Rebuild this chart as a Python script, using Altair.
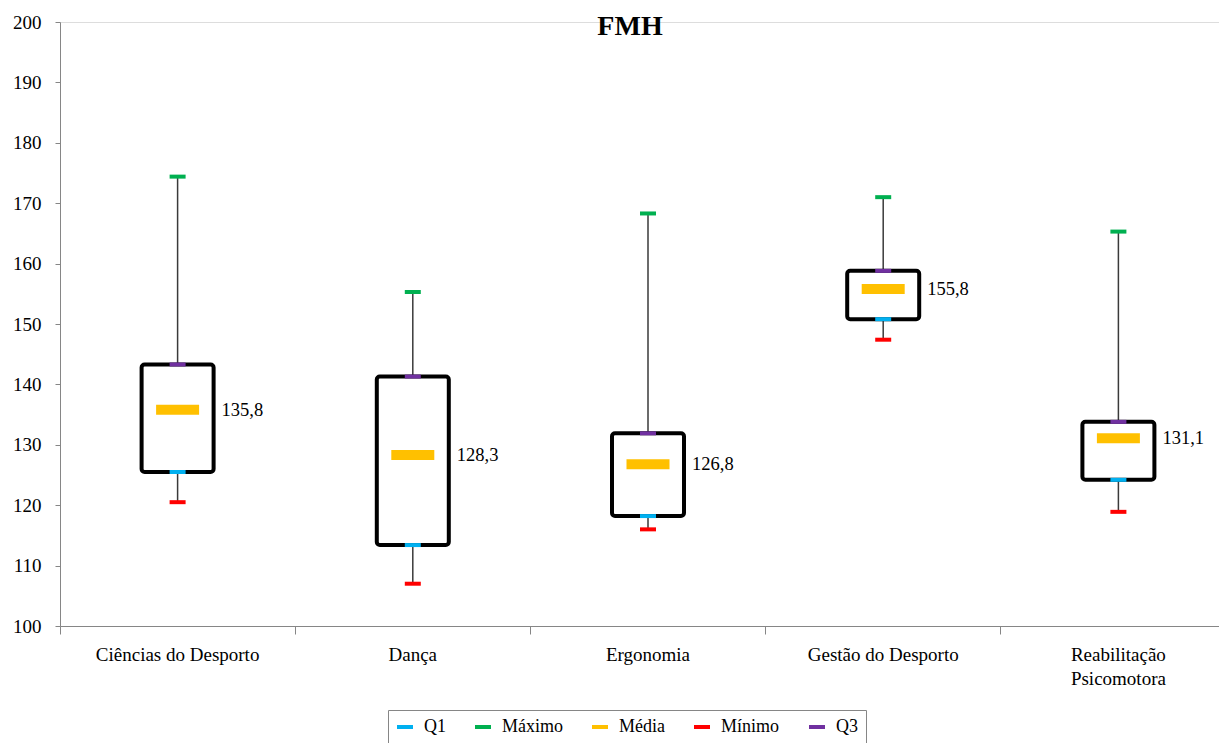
import altair as alt
import pandas as pd

categories = ["Ciências do Desporto", "Dança", "Ergonomia", "Gestão do Desporto", "Reabilitação Psicomotora"]
minimo = [120.5, 107.0, 116.0, 147.4, 118.9]
q1 = [125.5, 113.4, 118.2, 150.8, 124.2]
media = [135.8, 128.3, 126.8, 155.8, 131.1]
q3 = [143.3, 141.3, 131.9, 158.8, 133.8]
maximo = [174.4, 155.3, 168.3, 171.0, 165.3]

stat_names = ["Q1", "Máximo", "Média", "Mínimo", "Q3"]
stat_colors = ["#00B0F0", "#00B050", "#FFC000", "#FF0000", "#7030A0"]
y_ticks = [100, 110, 120, 130, 140, 150, 160, 170, 180, 190, 200]
title_text = "FMH"

FONT = "Liberation Serif"

box_df = pd.DataFrame({
    "cat": categories, "min": minimo, "q1": q1, "mean": media, "q3": q3, "max": maximo,
    "label": [f"{v:.1f}".replace(".", ",") for v in media],
})

rows = []
for i, c in enumerate(categories):
    rows.append({"cat": c, "stat": "Q1", "value": q1[i]})
    rows.append({"cat": c, "stat": "Máximo", "value": maximo[i]})
    rows.append({"cat": c, "stat": "Mínimo", "value": minimo[i]})
    rows.append({"cat": c, "stat": "Q3", "value": q3[i]})
small_df = pd.DataFrame(rows)
mean_df = pd.DataFrame({"cat": categories, "stat": ["Média"] * len(categories), "value": media})
title_df = pd.DataFrame({"t": [title_text]})

x_enc = alt.X(
    "cat:N",
    sort=categories,
    scale=alt.Scale(range=[0, 1176], paddingInner=0, paddingOuter=0),
    axis=alt.Axis(
        title=None, labelAngle=0, bandPosition=0, grid=False,
        domainColor="#868686", tickColor="#868686", tickSize=8,
        labelPadding=11, labelFont=FONT, labelFontSize=19, labelColor="black",
        labelLineHeight=24, labelBaseline="top",
        labelExpr="datum.label == 'Reabilitação Psicomotora' ? ['Reabilitação', 'Psicomotora'] : datum.label",
    ),
)

y_scale = alt.Scale(domain=[100, 200], nice=False, zero=False)
y_axis = alt.Axis(
    title=None, values=y_ticks, grid=False,
    domainColor="#868686", tickColor="#868686", tickSize=5,
    labelPadding=14, labelFont=FONT, labelFontSize=19, labelColor="black",
)

color_enc = alt.Color(
    "stat:N",
    scale=alt.Scale(domain=stat_names, range=stat_colors),
    legend=alt.Legend(
        title=None, orient="none", legendX=328, legendY=688, direction="horizontal",
        strokeColor="#868686", padding=8, columnPadding=28,
        labelFont=FONT, labelFontSize=18, labelColor="black", labelOffset=10,
        symbolType="M-1,-0.25L1,-0.25L1,0.25L-1,0.25Z", symbolSize=256,
        symbolStrokeWidth=0,
    ),
)

whisker = alt.Chart(box_df).mark_rule(color="#3a3a3a", strokeWidth=1.5).encode(
    x=x_enc,
    y=alt.Y("min:Q", scale=y_scale, axis=y_axis),
    y2="max:Q",
)

box = alt.Chart(box_df).mark_bar(
    size=72, fill="white", stroke="black", strokeWidth=4, cornerRadius=3
).encode(
    x=x_enc,
    y=alt.Y("q1:Q", scale=y_scale, axis=y_axis),
    y2="q3:Q",
)

small = alt.Chart(small_df).mark_tick(size=16, thickness=4, opacity=1).encode(
    x=x_enc,
    y=alt.Y("value:Q", scale=y_scale, axis=y_axis),
    color=color_enc,
)

mean_marks = alt.Chart(mean_df).mark_tick(size=43, thickness=10, opacity=1).encode(
    x=x_enc,
    y=alt.Y("value:Q", scale=y_scale, axis=y_axis),
    color=color_enc,
)

labels = alt.Chart(box_df).mark_text(
    align="left", baseline="middle", dx=44, font=FONT, fontSize=18.5, color="black"
).encode(
    x=x_enc,
    y=alt.Y("mean:Q", scale=y_scale, axis=y_axis),
    text="label:N",
)

title = alt.Chart(title_df).mark_text(
    align="center", baseline="alphabetic", font=FONT, fontSize=28, fontWeight="bold", color="black"
).encode(
    x=alt.value(570),
    y=alt.value(13),
    text="t:N",
)

chart = alt.layer(whisker, box, small, mean_marks, labels, title).properties(
    width=1159,
    height=604,
    autosize=alt.AutoSizeParams(type="none"),
    padding={"left": 52, "top": 14, "right": 0, "bottom": 117},
).configure_view(strokeWidth=0).configure(background="white", font=FONT)

chart.save("out.html", embed_options={"renderer": "svg", "actions": False})
